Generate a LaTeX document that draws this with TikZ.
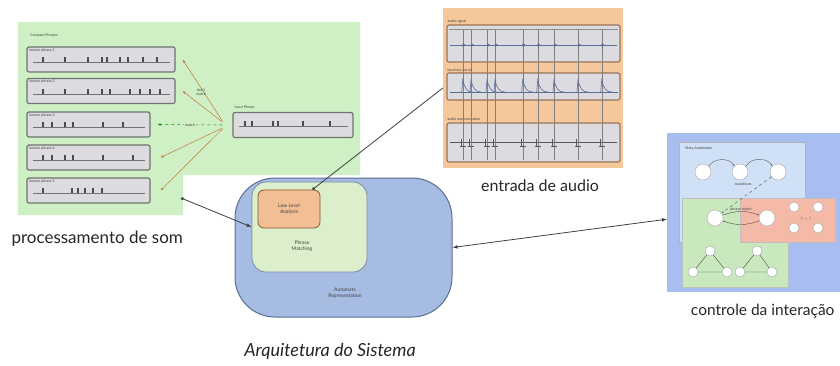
\documentclass[tikz,border=0pt]{standalone}
\usepackage{fontspec}
\setmainfont{Lato}
\usepackage{tikz}
\usetikzlibrary{arrows.meta}
\definecolor{soundgreen}{HTML}{CFF0C4}
\definecolor{boxgray}{HTML}{DCDCE0}
\definecolor{boxedge}{HTML}{6E746E}
\definecolor{audioorange}{HTML}{F5C89C}
\definecolor{audioedge}{HTML}{9A7456}
\definecolor{signalblue}{HTML}{5A6E9A}
\definecolor{ctrlblue}{HTML}{A9BEF0}
\definecolor{metablue}{HTML}{D0E0F6}
\definecolor{ctrlgreen}{HTML}{C9E8BE}
\definecolor{ctrlred}{HTML}{F5B9A8}
\definecolor{archblue}{HTML}{A7BCE3}
\definecolor{archedge}{HTML}{5B6E92}
\definecolor{archgreen}{HTML}{DCEFCC}
\definecolor{archorange}{HTML}{F2BE94}
\definecolor{matchorange}{HTML}{C8743A}
\definecolor{captiongray}{HTML}{262626}
\newcommand\notes[3]{%
  \draw[black!55, line width=0.5pt] (33,#1) -- (#2,#1);
  \foreach \t in {#3} \fill[black!70] (\t-0.7,#1) rectangle (\t+0.7,#1-5);}

\begin{document}
\begin{tikzpicture}[x=1pt, y=-1pt,
    tinytext/.style={font=\fontsize{3.6}{4.2}\selectfont, text=black!75, inner sep=0pt, align=center},
    smalltext/.style={font=\fontsize{5}{5.8}\selectfont, text=black!75, inner sep=0pt, align=center},
    phrasebox/.style={draw=boxedge, line width=1.2pt, fill=boxgray, rounded corners=2pt, minimum height=25pt, inner sep=0pt},
    audiobox/.style={draw=audioedge, line width=1.2pt, fill=boxgray, rounded corners=2pt, minimum width=173pt, inner sep=0pt},
    state/.style={circle, draw=gray!70, fill=white, minimum size=16pt, inner sep=0pt},
    smallstate/.style={state, minimum size=10pt},
    matcharrow/.style={-{Latex[length=3pt, width=2.5pt]}, draw=matchorange, line width=0.5pt},
    caption/.style={font=\fontsize{17}{19}\selectfont, text=captiongray},
    link/.style={line width=0.8pt, draw=black!75}]

  \useasboundingbox (0,0) rectangle (840,365);

  % processamento de som
  \fill[soundgreen] (18,22) -- (360,22) -- (360,175) -- (183,175) -- (183,215) -- (18,215) -- cycle;
  \coordinate (soundend) at (181,198);
  \node[tinytext, anchor=west] (cmp) at (30,35) {Compare Phrases};
  \node[phrasebox, minimum width=148pt] (b1) at (101,59.5) {};
  \node[phrasebox, minimum width=148pt] (b2) at (101,91) {};
  \node[phrasebox, minimum width=123pt] (b3) at (88.5,124.5) {};
  \node[phrasebox, minimum width=123pt] (b4) at (88.5,157.5) {};
  \node[phrasebox, minimum width=123pt] (b5) at (88.5,190.5) {};
  \node[phrasebox, minimum width=120pt] (in) at (293,125) {};
  \foreach \b/\l in {b1/known phrase 1, b2/known phrase 2, b3/known phrase 3, b4/known phrase 4, b5/known phrase 5}
    \node[tinytext, anchor=north west] at ([shift={(3pt,-2pt)}]\b.north west) {\l};
  \node[tinytext, anchor=south west] (inlabel) at ([shift={(2pt,3pt)}]in.north west) {Input Phrase};
  \notes{62}{170}{43,65,88,102,107,120,128,143,157}
  \notes{94}{170}{43,65,88,102,110,130,140,150,160}
  \notes{127}{145}{43,52,65,73,103,123}
  \notes{160}{145}{43,52,65,73,103,133}
  \notes{193}{145}{43,72,78,85,93,102}
  \draw[black!55, line width=0.5pt] (239,126) -- (348,126);
  \foreach \t in {245,252,273,278,303,330} \fill[black!70] (\t-0.7,126) rectangle (\t+0.7,121);
  \draw[matcharrow] ([xshift=-10pt, yshift=4pt]in.west) -- ([xshift=7pt]b1.east);
  \draw[matcharrow] ([xshift=-10pt, yshift=3pt]in.west) -- ([xshift=7pt]b2.east);
  \draw[matcharrow, draw=green!55!black, dashed] ([xshift=-10pt]in.west) -- node[tinytext, fill=soundgreen, inner sep=1pt] {match} ([xshift=7pt]b3.east);
  \draw[matcharrow] ([xshift=-10pt, yshift=-3pt]in.west) -- ([xshift=10pt]b4.east);
  \draw[matcharrow] ([xshift=-10pt, yshift=-4pt]in.west) -- ([xshift=10pt]b5.east);
  \node[tinytext] (nomatch) at (201,92) {don't\\match};
  \node[caption, anchor=west] (somcap) at (8,239) {processamento de som};

  % entrada de audio
  \node[fill=audioorange, minimum width=180pt, minimum height=160pt, inner sep=0pt] (audio) at (533,88) {};
  \node[audiobox, minimum height=37pt] (a1) at (533.5,43.5) {};
  \node[audiobox, minimum height=27pt] (a2) at (533.5,86.5) {};
  \node[audiobox, minimum height=39pt] (a3) at (533.5,142.5) {};
  \node[tinytext, anchor=south west] at ([shift={(1pt,1pt)}]a1.north west) {audio signal};
  \node[tinytext, anchor=south west] at ([shift={(1pt,1pt)}]a2.north west) {loudness curve};
  \node[tinytext, anchor=south west] at ([shift={(1pt,1pt)}]a3.north west) {audio representation};
  \draw[black!45, line width=0.4pt] (449,29) -- (618,29);
  \draw[signalblue, line width=0.5pt] (450,45) -- (617,45);
  \draw[signalblue, line width=0.6pt] (450,92) -- (618,92);
  \draw[black!65, line width=0.5pt] (450,142) -- (617,142);
  \foreach \t in {462.7,471,487,495,522.7,537.7,554,578,601.7} {
    \draw[black!50, line width=0.35pt] (\t,30) -- (\t,160);
    \fill[signalblue] (\t,43) -- (\t+3,45) -- (\t,47) -- cycle;
    \draw[signalblue, line width=0.6pt] (\t-1,92) -- (\t,80) .. controls (\t+2,88) and (\t+4,92) .. (\t+10,92);
    \draw[black!65, line width=0.45pt] (\t-1.5,139) -- (\t-1.5,146) (\t-3,146) -- (\t+3,146);
  }
  \node[caption, font=\fontsize{16}{18}\selectfont] (audiocap) at (540,186) {entrada de audio};

  % controle da interacao
  \node[fill=ctrlblue, minimum width=173pt, minimum height=159pt, inner sep=0pt, anchor=north west] (ctrl) at (667,133) {};
  \node[fill=metablue, draw=gray!60, minimum width=126pt, minimum height=100pt, inner sep=0pt, anchor=north west] (meta) at (679,142) {};
  \node[tinytext, anchor=west] at (685,148) {Meta Automaton};
  \node[state] (m1) at (703,172) {};
  \node[state] (m2) at (740,172) {};
  \node[state] (m3) at (778,172) {};
  \draw[-{Latex[length=2pt]}, gray!70!black, line width=0.4pt] (m1.north east) to[bend left=60] (m2.north west);
  \draw[-{Latex[length=2pt]}, gray!70!black, line width=0.4pt] (m2.north east) to[bend left=60] (m3.north west);
  \node[tinytext] at (743,184) {transitions};
  \node[fill=ctrlgreen, draw=gray!50, minimum width=106pt, minimum height=89pt, inner sep=0pt, anchor=north west] (cg) at (682,198) {};
  \node[fill=ctrlred, draw=gray!50, minimum width=95pt, minimum height=44pt, inner sep=0pt, anchor=north west] (cr) at (740,198) {};
  \node[state] (g1) at (715,218) {};
  \node[state] (r1) at (767,218) {};
  \draw[-{Latex[length=2pt]}, dashed, gray!60!black, line width=0.4pt] (m3) -- (g1);
  \draw[-{Latex[length=2pt]}, gray!60!black, line width=0.4pt] (g1.20) to[bend left=20] node[tinytext, above=0.5pt] {phrase match} (r1.160);
  \draw[-{Latex[length=2pt]}, gray!60!black, line width=0.4pt] (r1.200) to[bend left=20] (g1.340);
  \node[smallstate] (r2) at (794,207) {};
  \node[smallstate] (r3) at (818,207) {};
  \node[smallstate] (r4) at (794,228) {};
  \node[smallstate] (r5) at (818,228) {};
  \node[tinytext] at (806,218) {\{ ...... \}};
  \node[smallstate] (t1) at (710,251) {};
  \node[smallstate] (t2) at (693,272) {};
  \node[smallstate] (t3) at (727,272) {};
  \node[smallstate] (t4) at (757,251) {};
  \node[smallstate] (t5) at (740,272) {};
  \node[smallstate] (t6) at (772,272) {};
  \draw[gray!60!black, line width=0.4pt] (t1) -- (t2) (t1) -- (t3) (t2) -- (t3);
  \draw[gray!60!black, line width=0.4pt] (t4) -- (t5) (t4) -- (t6) (t5) -- (t6);
  \node[caption, font=\fontsize{15.5}{18}\selectfont, anchor=east] (ctrlcap) at (838,311) {controle da interação};

  % arquitetura
  \node[draw=archedge, line width=1pt, fill=archblue, rounded corners=40pt, minimum width=217pt, minimum height=139pt, inner sep=0pt] (arch) at (343.5,247.5) {};
  \node[smalltext] (archlabel) at (345,293) {Automata\\Representation};
  \node[draw=archedge!80, line width=0.8pt, fill=archgreen, rounded corners=14pt, minimum width=115pt, minimum height=90pt, inner sep=0pt] (pm) at (309.5,227) {};
  \node[smalltext] (pmlabel) at (302,246) {Phrase\\Matching};
  \node[draw=brown!70!black, line width=0.8pt, fill=archorange, rounded corners=6pt, minimum width=62pt, minimum height=38pt, inner sep=0pt, smalltext] (lla) at (289,209) {Low Level\\Analysis};
  \node[caption, font=\fontsize{18}{20}\selectfont\itshape] (archcap) at (330,351) {Arquitetura do Sistema};

  \draw[link, -{Circle[length=3pt]}] (audio.west) -- ([xshift=-8pt]lla.north east);
  \draw[link, {Circle[length=3pt]}-{Latex[length=5pt]}] (soundend) -- (pm.west);
  \draw[link, {Latex[length=5pt]}-{Latex[length=5pt]}] (arch.east) -- ([yshift=-6.5pt]ctrl.west);
\end{tikzpicture}
\end{document}
